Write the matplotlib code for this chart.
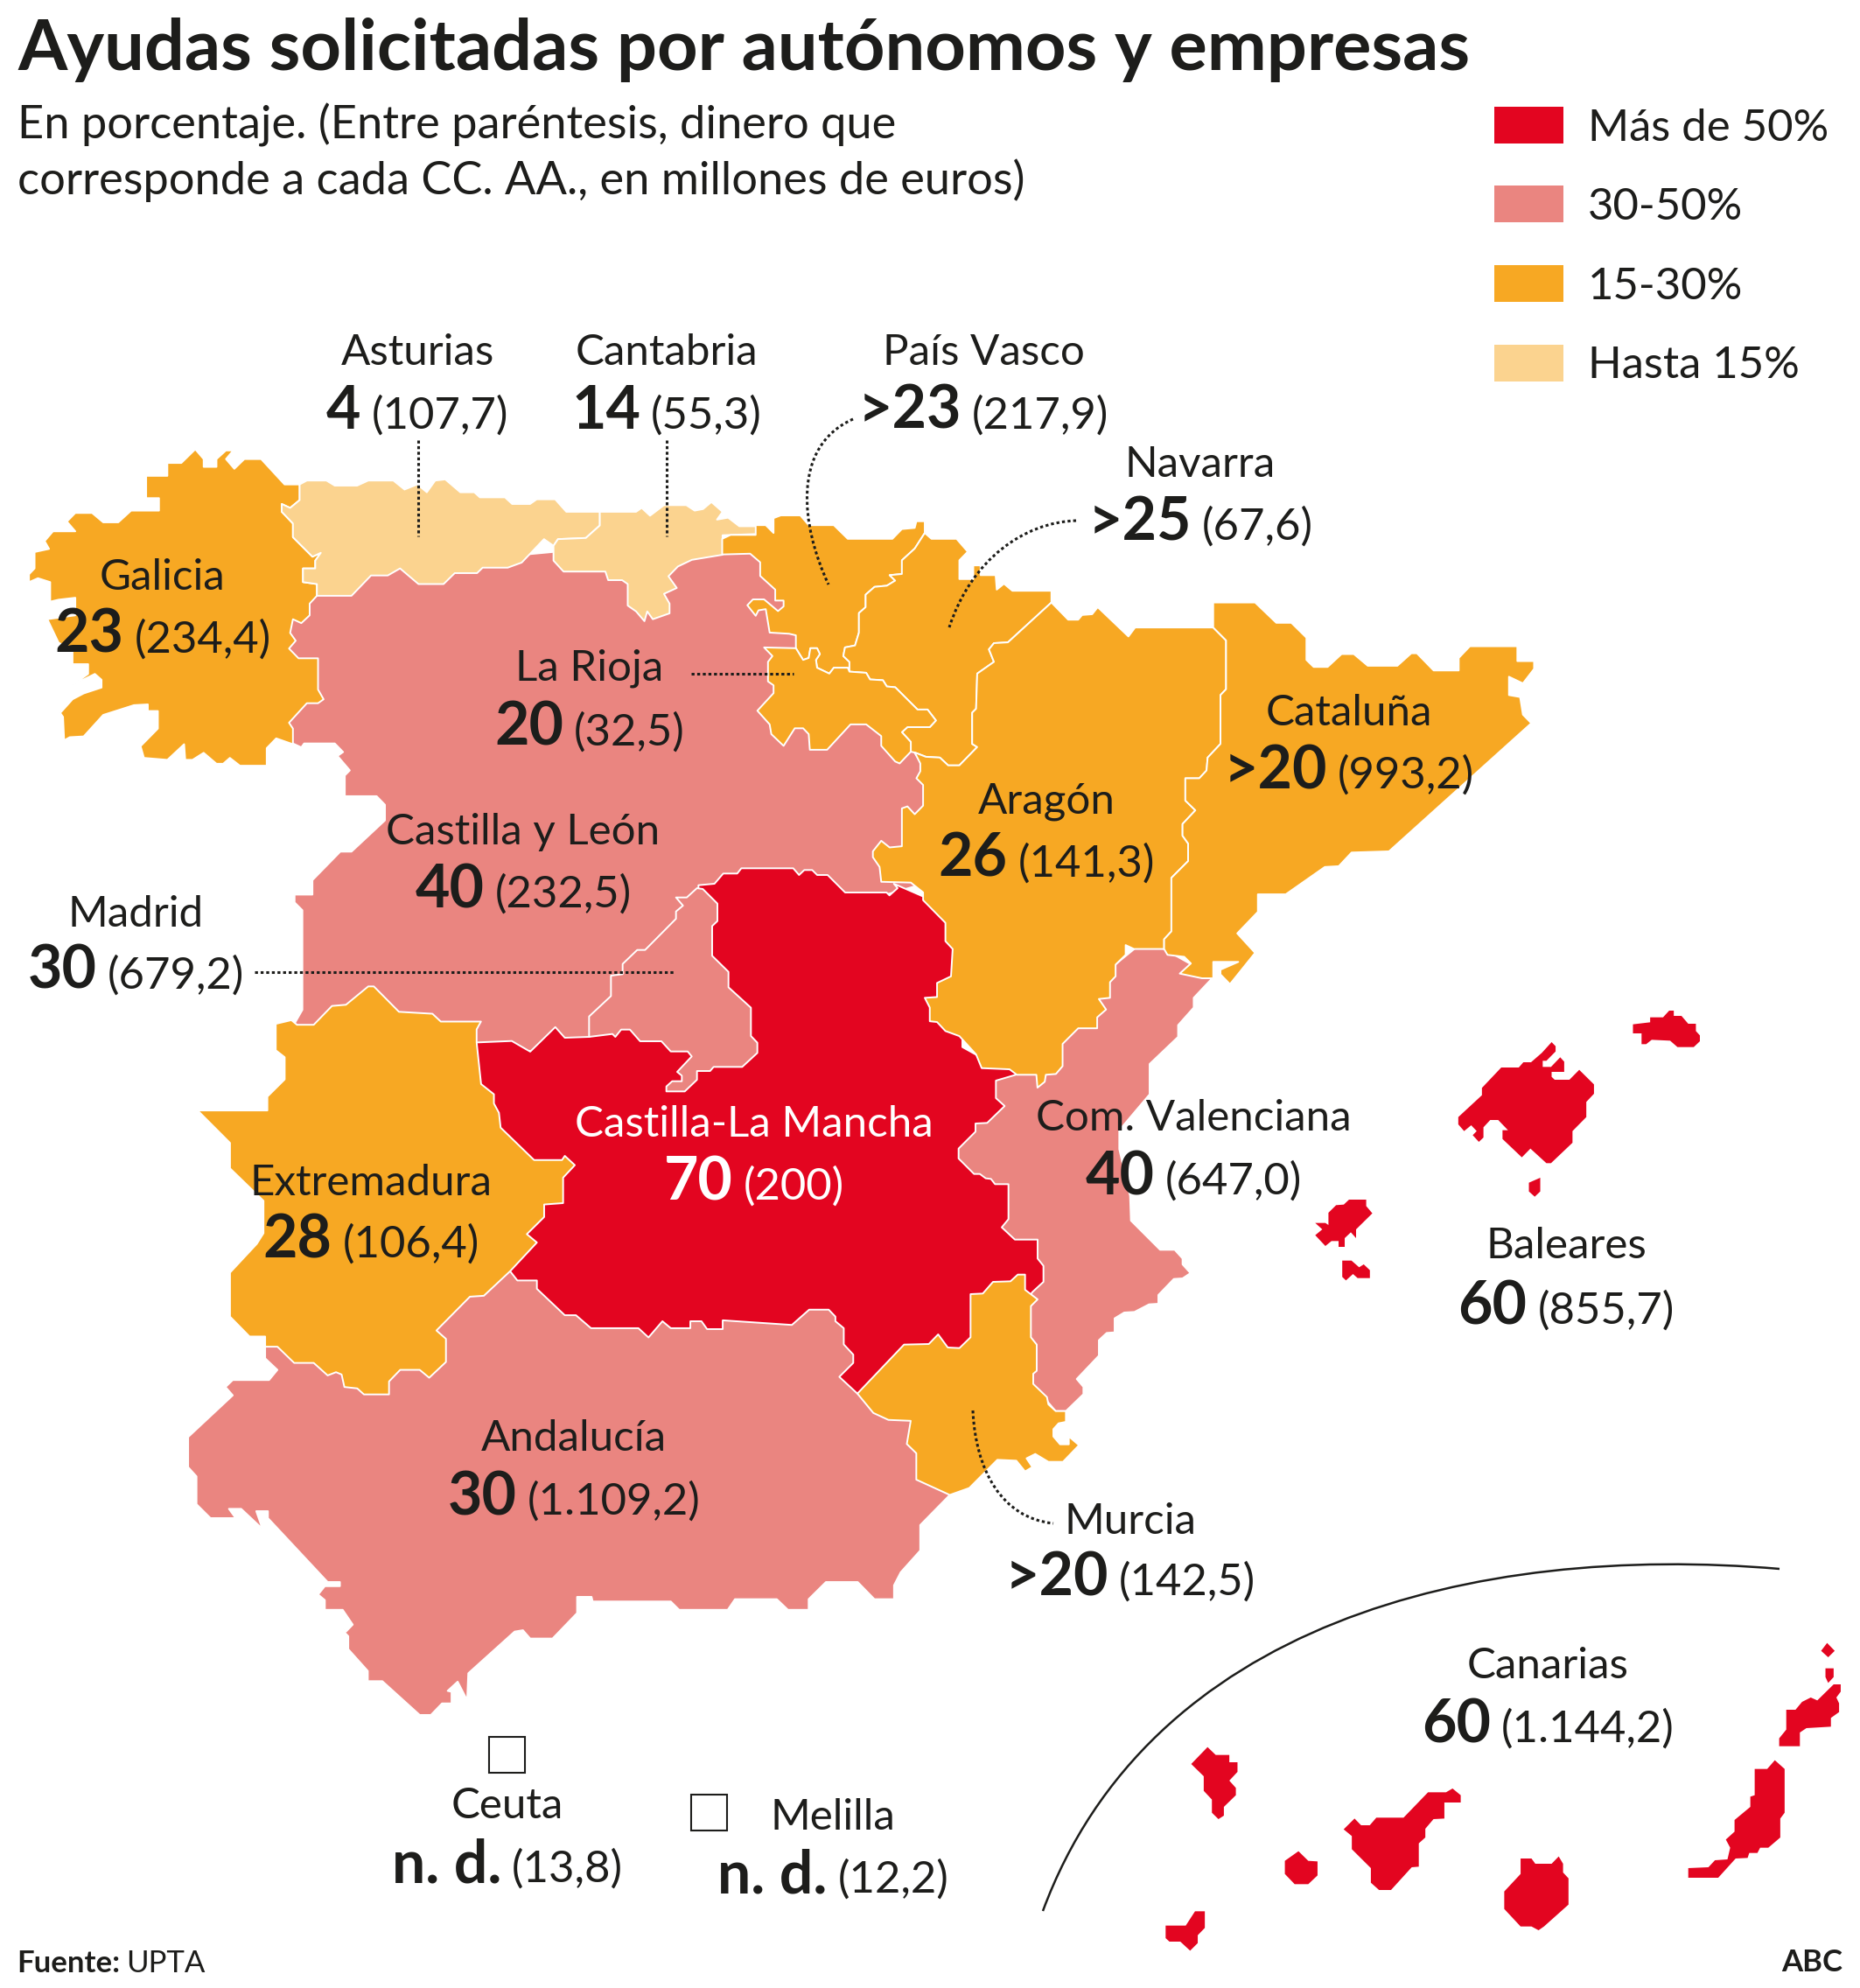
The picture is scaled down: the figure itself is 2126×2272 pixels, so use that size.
import numpy as np
import matplotlib
matplotlib.use("Agg")
import matplotlib.pyplot as plt
from matplotlib.patches import Polygon, Rectangle, PathPatch
from matplotlib.path import Path

FONT = "Lato"
INK = "#1d1d1b"
RED, PINK, ORANGE, LIGHT = "#e30520", "#ea8580", "#f7a823", "#fbd38f"

title = "Ayudas solicitadas por autónomos y empresas"
subtitle = ["En porcentaje. (Entre paréntesis, dinero que",
            "corresponde a cada CC. AA., en millones de euros)"]
legend_labels = ["Más de 50%", "30-50%", "15-30%", "Hasta 15%"]
legend_colors = [RED, PINK, ORANGE, LIGHT]

region_names = ["Galicia", "Asturias", "Cantabria", "País Vasco", "Navarra", "La Rioja",
                "Castilla y León", "Madrid", "Aragón", "Cataluña", "Castilla-La Mancha",
                "Com. Valenciana", "Baleares", "Extremadura", "Andalucía", "Murcia",
                "Canarias", "Ceuta", "Melilla"]
region_share = ["23", "4", "14", ">23", ">25", "20", "40", "30", "26", ">20", "70",
                "40", "60", "28", "30", ">20", "60", "n. d.", "n. d."]
region_money = ["(234,4)", "(107,7)", "(55,3)", "(217,9)", "(67,6)", "(32,5)", "(232,5)",
                "(679,2)", "(141,3)", "(993,2)", "(200)", "(647,0)", "(855,7)", "(106,4)",
                "(1.109,2)", "(142,5)", "(1.144,2)", "(13,8)", "(12,2)"]
# centre x, baseline of name, baseline of figure line
label_x = [186, 477, 762, 1124, 1372, 674, 598, 155, 1196, 1542, 862, 1364, 1790, 424, 656, 1292, 1769, 580, 952]
name_y = [674, 417, 417, 417, 545, 777, 965, 1059, 930, 829, 1299, 1292, 1438, 1366, 1658, 1753, 1918, 2078, 2091]
figure_y = [746, 490, 490, 490, 617, 852, 1037, 1130, 1002, 901, 1371, 1365, 1513, 1437, 1731, 1823, 1991, 2151, 2163]


def crop(x0, y0, sx, sy):
    def f(pts):
        a = np.array(pts, float)
        return np.c_[x0 + a[:, 0] / sx, y0 + a[:, 1] / sy]
    return f


C1 = crop(0, 480, 1.568, 2.24)
C2 = crop(800, 560, 1.568, 2.24)
C3 = crop(180, 1150, 1.568, 1.889)
C4 = crop(1150, 1750, 1.607, 3.0)
C5 = crop(1450, 1100, 2.85, 3.0)
C7 = crop(950, 1180, 3.0, 3.0)
C9 = crop(650, 960, 3.0, 3.0)

castilla_leon = np.vstack([
    C1([(600, 400), (900, 350), (1050, 330), (1200, 300), (1320, 320)]),
    C2([(150, 200), (200, 450), (300, 550), (370, 640), (420, 750), (420, 1000)]),
    C9([(700, 300), (300, 500), (300, 800), (30, 720)]),
    C3([(500, 100), (300, 100), (240, 60)]),
    C1([(528, 1545), (542, 1510), (542, 1255), (528, 1235), (528, 1215), (560, 1215), (560, 1178),
        (610, 1105), (630, 1105), (690, 1025), (690, 985), (675, 963), (618, 963), (618, 910),
        (627, 897), (605, 860), (615, 850), (600, 828), (545, 828), (540, 838), (528, 830),
        (480, 800), (480, 500), (550, 440)]),
])
valencia = np.vstack([
    C2([(800, 1150), (900, 1230), (918, 1250), (885, 1300), (885, 1325), (857, 1370), (857, 1400)]),
    C7([(1092, 108), (1092, 212), (988, 335), (988, 400), (1025, 560), (1028, 645), (1128, 745),
        (1178, 745), (1205, 775), (1205, 795), (1232, 825), (1205, 843), (1175, 845), (1122, 900),
        (1122, 930), (1090, 932), (1040, 958), (1005, 960), (972, 980), (972, 1028), (945, 1030),
        (918, 1055), (918, 1108), (842, 1188), (865, 1215), (865, 1240), (805, 1298), (770, 1298),
        (600, 1100), (600, 800), (400, 420), (450, 200)]),
    C2([(500, 1500)]),
])
andalucia = C3([(193, 735), (193, 760), (215, 785), (200, 807), (135, 807), (122, 822), (135, 840),
                (55, 930), (55, 995), (70, 1015), (70, 1075), (95, 1105), (140, 1105), (128, 1085),
                (150, 1085), (188, 1128), (177, 1090), (198, 1090), (198, 1105), (305, 1243),
                (327, 1243), (327, 1252), (300, 1252), (288, 1270), (300, 1282), (300, 1303),
                (332, 1303), (350, 1335), (338, 1350), (322, 1335), (342, 1360), (342, 1388),
                (377, 1435), (377, 1457), (403, 1457), (470, 1530), (490, 1530), (510, 1505),
                (527, 1505), (527, 1480), (520, 1478), (538, 1458), (555, 1498), (557, 1440),
                (640, 1350), (655, 1347), (668, 1365), (708, 1365), (752, 1310), (752, 1275),
                (778, 1275), (780, 1285), (920, 1285), (935, 1303), (1022, 1303), (1035, 1280),
                (1110, 1280), (1130, 1303), (1167, 1303), (1167, 1280), (1198, 1243), (1255, 1243),
                (1285, 1280), (1320, 1280), (1320, 1250), (1332, 1222), (1367, 1175), (1367, 1120),
                (1420, 1055), (1500, 900), (1400, 800), (1200, 600), (900, 500), (640, 500), (400, 600), (300, 700)])
mancha = np.vstack([
    C9([(445, 155), (500, 150), (530, 115), (578, 115), (592, 97), (770, 97), (790, 120), (808, 103),
        (835, 103), (852, 120), (888, 120), (948, 180), (1090, 180), (1100, 190), (1128, 165),
        (1115, 150), (1230, 200), (1320, 300), (1340, 500), (1300, 620), (1350, 670)]),
    C7([(450, 50), (540, 100), (630, 130), (633, 145), (565, 165), (565, 225), (595, 252), (535, 310),
        (495, 312), (495, 340), (437, 398), (437, 432), (490, 485), (510, 485), (530, 500), (548, 502),
        (562, 520), (608, 520), (608, 640), (585, 668), (630, 710), (708, 710), (708, 775), (728, 800),
        (728, 855), (690, 890), (650, 950), (400, 1150), (90, 1238)]),
    C3([(1222, 800), (1247, 770), (1247, 752), (1230, 730), (1230, 695), (1215, 680), (1215, 670),
        (1203, 655), (1168, 655), (1137, 688), (1013, 678), (1013, 697), (985, 697), (975, 680),
        (955, 680), (955, 695), (920, 695), (905, 680), (880, 715), (862, 695), (777, 695), (750, 667),
        (730, 667), (680, 610), (680, 592), (645, 592), (632, 572), (640, 480), (680, 400), (700, 345),
        (600, 300), (560, 200), (560, 78), (575, 78), (635, 75), (668, 98), (713, 45), (730, 68)]),
    C9([(70, 675), (300, 500), (445, 170)]),
])
madrid = C9([(440, 165), (460, 168), (510, 218), (510, 278), (492, 295), (492, 397), (548, 452), (548, 505),
             (625, 575), (625, 672), (647, 695), (647, 730), (595, 778), (497, 778), (485, 792), (440, 792),
             (440, 822), (398, 862), (335, 862), (335, 845), (355, 827), (388, 827), (388, 808), (372, 795),
             (422, 742), (408, 725), (350, 725), (318, 690), (245, 690), (210, 650), (180, 650), (160, 675),
             (150, 665), (70, 675), (70, 605), (145, 535), (145, 465), (185, 460), (185, 425), (235, 377),
             (262, 377), (368, 270), (368, 245), (392, 225), (368, 197), (405, 197)])
extremadura = np.vstack([
    C3([(212, 38), (240, 30), (250, 40), (280, 40)]),
    C1([(595, 1500), (620, 1497), (660, 1450), (670, 1450), (715, 1515), (775, 1520), (790, 1540), (862, 1540)]),
    C3([(572, 50), (572, 78), (580, 168), (603, 190), (603, 210), (612, 230), (615, 262), (675, 332), (725, 332),
        (730, 323), (748, 343), (727, 370), (727, 425), (693, 428), (693, 455), (662, 492), (680, 510), (632, 572),
        (585, 625), (560, 627), (500, 700), (517, 718), (517, 768), (487, 802), (470, 785), (435, 785), (415, 810),
        (415, 838), (370, 838), (358, 825), (335, 822), (330, 795), (320, 790), (305, 797), (280, 770), (245, 770),
        (215, 735), (193, 735), (193, 713), (165, 713), (130, 670), (130, 575), (178, 513), (190, 490), (190, 420),
        (130, 350), (130, 295), (72, 225), (197, 225), (197, 195), (228, 158), (228, 110), (212, 95)]),
])
galicia = C1([(350, 75), (365, 100), (365, 120), (388, 120), (388, 100), (405, 78), (418, 78), (405, 100), (420, 125),
              (438, 100), (468, 100), (510, 165), (537, 165), (537, 205), (520, 225), (505, 215), (505, 235),
              (525, 265), (525, 300), (560, 350), (575, 340), (565, 360), (565, 380), (543, 380), (543, 415),
              (568, 420), (568, 450), (555, 470), (555, 500), (540, 520), (525, 510), (520, 545), (530, 565),
              (518, 585), (535, 610), (570, 610), (570, 690), (580, 715), (570, 725), (550, 725), (518, 775),
              (525, 790), (525, 830), (495, 815), (478, 840), (478, 885), (430, 885), (412, 865), (400, 880),
              (388, 880), (365, 852), (345, 870), (332, 870), (330, 830), (300, 870), (258, 865), (252, 835),
              (283, 790), (283, 745), (265, 745), (265, 728), (240, 730), (185, 755), (150, 810), (125, 812),
              (115, 820), (113, 760), (108, 750), (130, 715), (150, 700), (182, 685), (182, 665), (170, 650),
              (130, 678), (158, 650), (158, 625), (130, 625), (130, 590), (105, 570), (85, 510), (135, 500),
              (135, 455), (105, 460), (90, 465), (90, 415), (68, 405), (52, 415), (52, 395), (62, 380), (62, 338),
              (88, 330), (80, 310), (95, 285), (135, 285), (120, 260), (135, 238), (165, 238), (185, 262),
              (212, 262), (235, 232), (285, 232), (285, 200), (262, 200), (262, 143), (300, 143), (300, 110),
              (325, 110)])
asturias = C1([(537, 165), (550, 155), (585, 155), (600, 168), (640, 168), (660, 155), (705, 155), (725, 178),
               (748, 165), (765, 185), (780, 155), (798, 152), (825, 185), (850, 185), (860, 198), (905, 198),
               (918, 215), (950, 215), (962, 203), (995, 203), (1015, 235), (1075, 235), (1075, 270), (1050, 302),
               (1000, 305), (992, 322), (975, 305), (935, 365), (910, 378), (865, 378), (855, 392), (815, 392),
               (795, 420), (750, 420), (717, 380), (695, 398), (665, 398), (630, 450), (568, 450), (568, 420),
               (543, 415), (543, 380), (565, 380), (565, 360), (575, 340), (560, 350), (525, 300), (525, 265),
               (505, 235), (505, 215), (520, 225), (537, 205)])
cantabria = C1([(1075, 235), (1140, 235), (1150, 225), (1165, 245), (1190, 218), (1230, 218), (1245, 232),
                (1260, 228), (1275, 210), (1295, 235), (1285, 255), (1305, 250), (1325, 272), (1355, 272),
                (1355, 292), (1295, 295), (1295, 345), (1240, 358), (1215, 375), (1198, 400), (1213, 430),
                (1190, 445), (1200, 470), (1200, 495), (1170, 510), (1160, 490), (1155, 515), (1140, 490),
                (1125, 475), (1125, 420), (1115, 410), (1090, 410), (1085, 388), (1010, 388), (992, 360),
                (992, 322), (1000, 305), (1050, 302), (1075, 270)])
vasco = C2([(40, 125), (55, 115), (100, 115), (100, 90), (118, 90), (132, 110), (132, 72), (145, 65), (180, 65),
            (195, 90), (240, 90), (265, 125), (345, 125), (362, 100), (385, 97), (388, 80), (403, 80), (403, 110),
            (385, 150), (362, 180), (362, 215), (340, 218), (350, 232), (335, 245), (313, 248), (297, 268),
            (297, 300), (285, 315), (285, 365), (278, 398), (260, 403), (257, 425), (268, 440), (268, 465),
            (265, 455), (240, 455), (232, 470), (210, 455), (208, 435), (215, 420), (210, 405), (198, 405),
            (195, 430), (185, 435), (172, 405), (172, 372), (160, 368), (125, 365), (118, 305), (105, 308),
            (100, 322), (85, 295), (95, 280), (115, 280), (140, 310), (150, 298), (150, 283), (135, 283),
            (135, 255), (108, 220), (108, 185), (90, 163), (40, 165)])
rioja = C2([(115, 403), (172, 405), (185, 435), (195, 430), (198, 405), (210, 405), (215, 420), (208, 435),
            (210, 455), (232, 470), (240, 455), (265, 455), (268, 465), (298, 468), (305, 485), (328, 487),
            (335, 503), (350, 505), (390, 562), (408, 562), (423, 590), (412, 607), (372, 607), (362, 620),
            (378, 645), (378, 670), (358, 700), (350, 695), (325, 655), (325, 630), (298, 600), (270, 600),
            (228, 665), (197, 665), (195, 625), (185, 610), (170, 610), (150, 655), (128, 625), (125, 600),
            (103, 565), (132, 520), (132, 500), (122, 490), (122, 440), (130, 425)])
navarra = C2([(403, 110), (415, 125), (460, 125), (480, 158), (465, 180), (465, 228), (490, 228), (490, 193),
              (503, 193), (503, 218), (530, 218), (532, 255), (545, 240), (560, 258), (630, 258), (630, 288),
              (552, 390), (527, 392), (518, 408), (527, 440), (497, 470), (495, 560), (488, 570), (488, 650),
              (497, 658), (465, 705), (445, 705), (430, 685), (405, 683), (385, 672), (378, 670), (378, 645),
              (362, 620), (372, 607), (412, 607), (423, 590), (408, 562), (390, 562), (350, 505), (335, 503),
              (328, 487), (305, 485), (298, 468), (268, 465), (268, 440), (257, 425), (260, 403), (278, 398),
              (285, 365), (285, 315), (297, 300), (297, 268), (313, 248), (335, 245), (350, 232), (340, 218),
              (362, 215), (362, 180), (385, 150)])
aragon = C2([(630, 288), (660, 332), (678, 332), (685, 320), (703, 318), (713, 300), (768, 375), (780, 352),
             (920, 352), (943, 385), (943, 510), (933, 525), (933, 650), (910, 685), (908, 718), (895, 738),
             (870, 738), (870, 795), (888, 820), (865, 855), (865, 885), (875, 905), (875, 950), (845, 993),
             (845, 1130), (832, 1150), (832, 1175), (778, 1175), (763, 1165), (763, 1190), (745, 1215), (745, 1245),
             (735, 1260), (735, 1300), (715, 1303), (728, 1330), (712, 1350), (712, 1378), (678, 1378), (650, 1418),
             (650, 1475), (638, 1495), (620, 1497), (618, 1515), (605, 1530), (603, 1497), (568, 1497), (555, 1483),
             (505, 1480), (495, 1445), (465, 1398), (440, 1385), (425, 1362), (412, 1360), (412, 1325), (403, 1300),
             (425, 1298), (425, 1262), (450, 1245), (453, 1175), (440, 1155), (440, 1108), (400, 1050), (400, 1030),
             (378, 1005), (325, 1003), (322, 965), (310, 940), (310, 925), (325, 898), (340, 915), (362, 912),
             (362, 815), (372, 810), (385, 830), (400, 808), (400, 755), (388, 738), (395, 720), (395, 700),
             (385, 672), (405, 683), (430, 685), (445, 705), (465, 705), (497, 658), (488, 650), (488, 570),
             (495, 560), (497, 470), (527, 440), (518, 408), (527, 392), (552, 390)])
cataluna = C2([(920, 288), (995, 288), (1033, 340), (1060, 340), (1087, 378), (1087, 435), (1100, 453), (1125, 453),
               (1150, 420), (1172, 420), (1197, 450), (1250, 450), (1275, 418), (1285, 418), (1315, 462), (1360, 462),
               (1360, 430), (1380, 400), (1465, 400), (1465, 438), (1495, 438), (1495, 458), (1475, 495), (1450, 478),
               (1450, 525), (1470, 530), (1475, 575), (1490, 597), (1235, 925), (1168, 928), (1145, 963), (1120, 965),
               (1050, 1035), (1000, 1035), (1000, 1080), (963, 1135), (995, 1185), (950, 1265), (933, 1240), (933, 1228),
               (965, 1208), (920, 1208), (920, 1250), (900, 1250), (860, 1238), (880, 1212), (868, 1195), (838, 1190),
               (832, 1175), (832, 1150), (845, 1130), (845, 993), (875, 950), (875, 905), (865, 885), (865, 855),
               (888, 820), (870, 795), (870, 738), (895, 738), (908, 718), (910, 685), (933, 650), (933, 525),
               (943, 510), (943, 385), (920, 352)])
murcia = np.vstack([
    C7([(90, 1238), (250, 1070), (335, 1068), (367, 1035), (400, 1080), (440, 1082), (478, 1045), (478, 897),
        (520, 895), (555, 855), (615, 853), (640, 830), (665, 830), (665, 882), (708, 915), (685, 938), (685, 1045),
        (705, 1070), (705, 1160), (693, 1170), (693, 1205), (740, 1250), (745, 1275), (770, 1298), (805, 1298),
        (805, 1335), (780, 1340), (762, 1360), (762, 1385), (785, 1412), (815, 1412), (815, 1385), (850, 1415),
        (795, 1472), (745, 1472), (700, 1445), (670, 1460), (690, 1490), (665, 1505), (635, 1468), (570, 1465)]),
    C3([(1455, 1040), (1420, 1055), (1360, 1022), (1360, 965), (1343, 945), (1350, 895), (1310, 893), (1283, 878)]),
])
baleares = [
    C5([(1187, 212), (1243, 205), (1243, 188), (1285, 188), (1305, 165), (1320, 165), (1320, 183), (1345, 183),
        (1367, 210), (1392, 210), (1392, 235), (1405, 250), (1405, 270), (1385, 290), (1332, 290), (1308, 268),
        (1248, 265), (1230, 280), (1215, 280), (1215, 243), (1187, 243)]),
    C5([(922, 273), (935, 287), (935, 305), (905, 337), (893, 337), (893, 358), (920, 358), (950, 325), (963, 340),
        (963, 375), (922, 375), (922, 392), (932, 402), (980, 402), (1012, 368), (1060, 418), (1060, 450), (1035, 478),
        (1035, 530), (990, 578), (990, 618), (920, 688), (905, 688), (853, 638), (825, 668), (762, 605), (762, 575),
        (780, 575), (748, 540), (722, 540), (700, 565), (700, 600), (685, 615), (665, 592), (678, 578), (660, 558),
        (637, 578), (618, 555), (618, 530), (695, 455), (695, 430), (758, 360), (815, 360), (830, 342), (855, 342),
        (890, 310)]),
    C5([(848, 755), (885, 738), (885, 785), (867, 803), (848, 785)]),
    C5([(152, 893), (185, 893), (195, 900), (195, 858), (220, 832), (245, 830), (262, 813), (318, 813), (318, 835),
        (338, 860), (285, 915), (285, 945), (268, 925), (248, 945), (248, 975), (228, 975), (228, 955), (205, 955),
        (185, 972), (152, 935), (175, 915)]),
    C5([(240, 1022), (270, 1022), (295, 1045), (310, 1035), (330, 1055), (330, 1082), (290, 1082), (275, 1068),
        (252, 1090), (240, 1078)]),
]
canarias = [
    C4([(370, 740), (385, 767), (410, 767), (410, 792), (425, 792), (425, 825), (410, 855), (422, 880), (422, 905),
        (400, 945), (400, 975), (390, 987), (378, 965), (378, 920), (363, 890), (363, 840), (340, 798)]),
    C4([(347, 1303), (365, 1303), (365, 1360), (352, 1385), (352, 1412), (338, 1438), (320, 1407), (300, 1407),
        (293, 1395), (293, 1352), (330, 1352)]),
    C4([(537, 1097), (555, 1130), (572, 1132), (572, 1180), (555, 1210), (530, 1210), (512, 1175), (512, 1130)]),
    C4([(640, 985), (652, 1008), (668, 1008), (680, 982), (730, 982), (775, 895), (808, 895), (820, 882), (835, 905),
        (835, 930), (805, 930), (805, 985), (785, 987), (770, 1020), (770, 1050), (758, 1070), (758, 1150), (745, 1152),
        (707, 1230), (685, 1230), (670, 1205), (670, 1155), (635, 1090), (635, 1045), (620, 1022)]),
    C4([(945, 1122), (965, 1122), (972, 1140), (1002, 1140), (1015, 1115), (1023, 1140), (1023, 1170), (1033, 1190),
        (1033, 1280), (988, 1355), (978, 1368), (965, 1355), (945, 1355), (915, 1295), (915, 1235), (945, 1175)]),
    C4([(1412, 785), (1430, 815), (1430, 965), (1422, 985), (1422, 1050), (1400, 1085), (1385, 1085), (1380, 1103),
        (1365, 1103), (1362, 1120), (1340, 1122), (1308, 1188), (1253, 1188), (1253, 1155), (1290, 1152), (1302, 1128),
        (1325, 1125), (1330, 1085), (1322, 1057), (1338, 1030), (1338, 990), (1367, 945), (1367, 910), (1375, 905),
        (1375, 815), (1398, 815)]),
    C4([(1520, 525), (1533, 525), (1533, 550), (1525, 570), (1530, 590), (1530, 620), (1515, 640), (1515, 670),
        (1470, 675), (1458, 690), (1458, 737), (1420, 737), (1420, 710), (1433, 680), (1433, 612), (1450, 612),
        (1462, 585), (1478, 570), (1490, 580)]),
    C4([(1505, 470), (1520, 470), (1520, 500), (1510, 520), (1505, 500)]),
    C4([(1508, 383), (1522, 410), (1510, 432), (1497, 410)]),
]

fig = plt.figure(figsize=(21.26, 22.72), dpi=100, facecolor="white")
ax = fig.add_axes([0, 0, 1, 1])
ax.set_xlim(0, 2126)
ax.set_ylim(2272, 0)
ax.axis("off")

map_layers = [(castilla_leon, PINK), (valencia, PINK), (andalucia, PINK), (mancha, RED), (madrid, PINK),
              (extremadura, ORANGE), (galicia, ORANGE), (asturias, LIGHT), (cantabria, LIGHT),
              (vasco, ORANGE), (navarra, ORANGE), (rioja, ORANGE), (aragon, ORANGE), (cataluna, ORANGE),
              (murcia, ORANGE)]
for i, (pts, col) in enumerate(map_layers):
    ax.add_patch(Polygon(pts, closed=True, facecolor=col, edgecolor="white", lw=1.4, joinstyle="round", zorder=2 + i * 0.01))
for pts in baleares + canarias:
    ax.add_patch(Polygon(pts, closed=True, facecolor=RED, edgecolor="none", zorder=2))

# Ceuta and Melilla markers
for x, y in [(559, 1985), (790, 2051)]:
    ax.add_patch(Rectangle((x, y), 41, 41, facecolor="white", edgecolor=INK, lw=1.5, zorder=2))

# Canarias arc
arc = Path([(1192, 2184), (1313, 1857), (1683, 1763), (2034, 1793)],
           [Path.MOVETO, Path.CURVE4, Path.CURVE4, Path.CURVE4])
ax.add_patch(PathPatch(arc, facecolor="none", edgecolor=INK, lw=1.8, zorder=3))

# Leaders
DOT = (0, (1.1, 1.0))
for xs, ys in [((478, 478), (503, 613)), ((762, 762), (503, 613)), ((790, 907), (770, 770)), ((291, 770), (1111, 1111))]:
    ax.plot(xs, ys, color=INK, lw=2.2, ls=DOT, zorder=4, dash_capstyle="butt")
for p in [[(975, 479), (905, 510), (915, 600), (947, 668)],
          [(1230, 595), (1170, 597), (1110, 640), (1085, 717)],
          [(1112, 1612), (1115, 1680), (1145, 1735), (1204, 1741)]]:
    path = Path(p, [Path.MOVETO, Path.CURVE4, Path.CURVE4, Path.CURVE4])
    ax.add_patch(PathPatch(path, facecolor="none", edgecolor=INK, lw=2.2, ls=DOT, zorder=4))

renderer = fig.canvas.get_renderer()
NAME_SIZE, FIG_SIZE, MONEY_SIZE = 35.5, 49, 36.5


def composed(cx, y, parts, color):
    """Centre a run of (string, size, weight) pieces on cx along one baseline."""
    items = []
    for s, size, weight in parts:
        t = ax.text(0, y, s, fontsize=size, fontweight=weight, family=FONT, color=color,
                    ha="left", va="baseline", zorder=5)
        items.append((t, t.get_window_extent(renderer).width))
    gap = 12
    total = sum(w for _, w in items) + gap * (len(items) - 1)
    x = cx - total / 2
    for t, w in items:
        t.set_x(x)
        x += w + gap


for name, share, money, cx, ny, fy in zip(region_names, region_share, region_money, label_x, name_y, figure_y):
    col = "white" if name == "Castilla-La Mancha" else INK
    ax.text(cx, ny, name, fontsize=NAME_SIZE, family=FONT, color=col, ha="center", va="baseline", zorder=5)
    composed(cx, fy, [(share, FIG_SIZE, "bold"), (money, MONEY_SIZE, "normal")], col)

ax.text(20, 80, title, fontsize=58.4, fontweight="bold", family=FONT, color=INK, va="baseline")
for line, y in zip(subtitle, [159, 222]):
    ax.text(20, y, line, fontsize=37.7, family=FONT, color=INK, va="baseline")

for lab, col, top, base in zip(legend_labels, legend_colors, [122, 212, 303, 394], [161, 251, 342, 432]):
    ax.add_patch(Rectangle((1708, top), 79, 42, facecolor=col, edgecolor="none"))
    ax.text(1815, base, lab, fontsize=36.6, family=FONT, color=INK, va="baseline")

t = ax.text(19, 2254, "Fuente:", fontsize=25, fontweight="bold", family=FONT, color=INK, va="baseline")
ax.text(19 + t.get_window_extent(renderer).width + 7, 2254, "UPTA", fontsize=25, family=FONT, color=INK, va="baseline")
ax.text(2106, 2253, "ABC", fontsize=25, fontweight="bold", family=FONT, color=INK, ha="right", va="baseline")

fig.savefig("out.png", dpi=100)
